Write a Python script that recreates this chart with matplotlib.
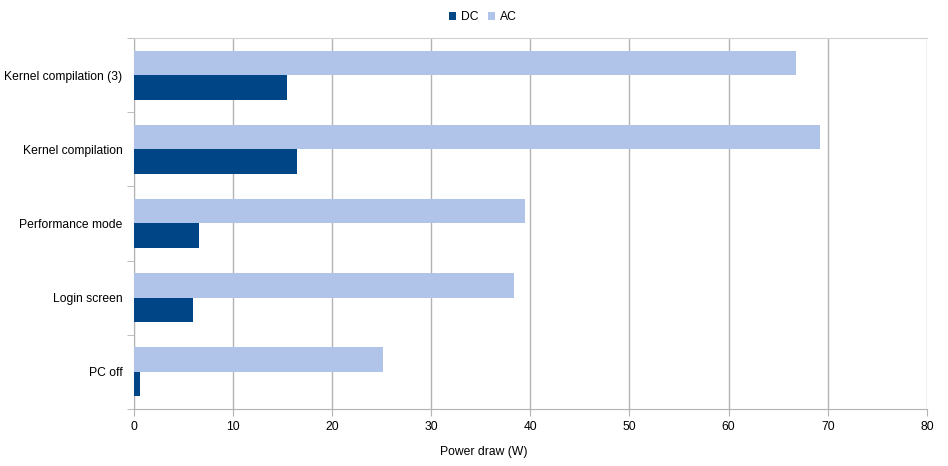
import matplotlib.pyplot as plt
import numpy as np

plt.rcParams['font.family'] = ['Liberation Sans', 'DejaVu Sans']

categories = ["PC off", "Login screen", "Performance mode", "Kernel compilation", "Kernel compilation (3)"]
dc_values = [0.7, 6.0, 6.6, 16.5, 15.5]
ac_values = [25.2, 38.4, 39.5, 69.2, 66.8]
x_ticks = [0, 10, 20, 30, 40, 50, 60, 70, 80]

dc_color = '#004586'
ac_color = '#b0c4e9'
grid_color = '#b3b3b3'
fs = 8.7

fig = plt.figure(figsize=(9.48, 4.66), dpi=100)
ax = fig.add_axes([133.5 / 948, 1 - 409 / 466, (927 - 133.5) / 948, (409 - 38) / 466])

y = np.arange(len(categories))
h = 0.33
ax.barh(y - h / 2, dc_values, height=h, color=dc_color, label='DC', zorder=3)
ax.barh(y + h / 2, ac_values, height=h, color=ac_color, label='AC', zorder=3)

ax.set_xlim(0, 80)
ax.set_ylim(-0.5, len(categories) - 0.5)
ax.set_xticks(x_ticks)
ax.set_yticks(y)
ax.set_yticklabels(categories)
ax.set_yticks(np.arange(-0.5, len(categories), 1), minor=True)
ax.tick_params(axis='y', which='major', length=0, pad=8, labelsize=fs)
ax.tick_params(axis='y', which='minor', length=5, color=grid_color)
ax.tick_params(axis='x', which='major', length=5, color=grid_color, pad=4, labelsize=fs)

ax.grid(axis='x', color=grid_color, linewidth=1, zorder=0)
for side in ['left', 'bottom', 'top']:
    ax.spines[side].set_color(grid_color)
ax.spines['top'].set_color('#d0d0d0')
ax.spines['right'].set_visible(False)

# axis title sits left of the plot centre, as in the original
fig.text(484 / 948, 1 - 452 / 466, 'Power draw (W)', fontsize=fs, ha='center', va='center')

ax.legend(loc='center', bbox_to_anchor=(483 / 948, 1 - 17 / 466), bbox_transform=fig.transFigure,
          ncol=2, frameon=False, fontsize=fs, handlelength=0.6, handleheight=0.6,
          handletextpad=0.4, columnspacing=0.8, borderaxespad=0, borderpad=0)

fig.savefig('out.png', dpi=100)
